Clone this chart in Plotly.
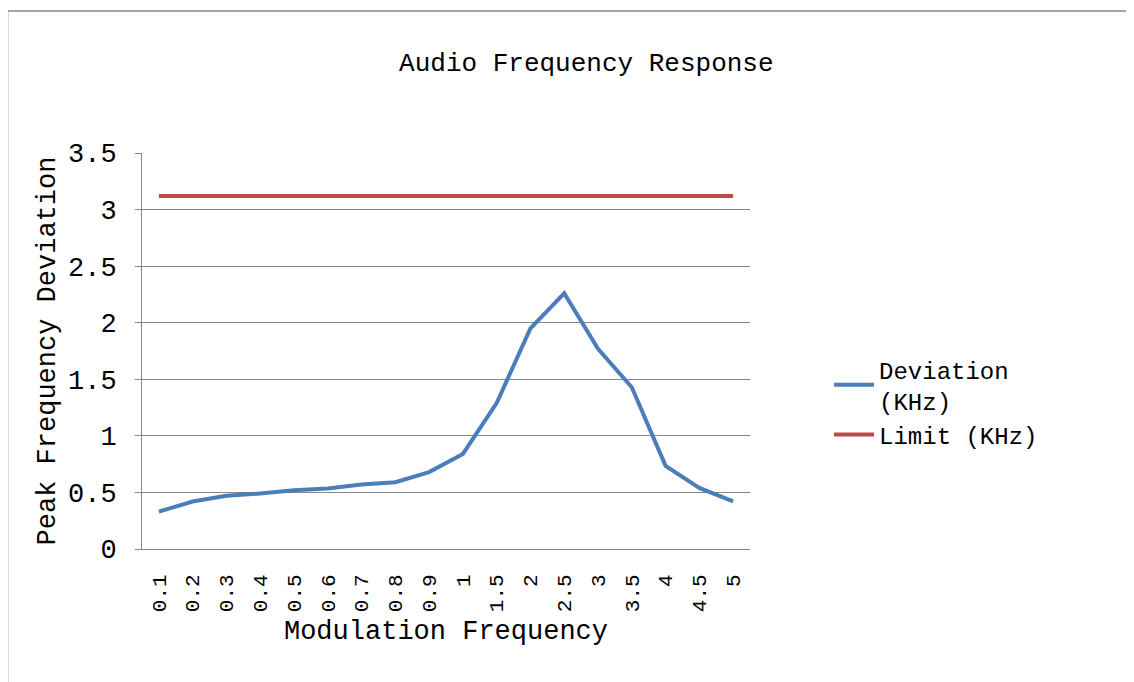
import plotly.graph_objects as go

categories = ["0.1", "0.2", "0.3", "0.4", "0.5", "0.6", "0.7", "0.8", "0.9",
              "1", "1.5", "2", "2.5", "3", "3.5", "4", "4.5", "5"]
deviation = [0.33, 0.42, 0.47, 0.49, 0.52, 0.535, 0.57, 0.59, 0.68,
             0.84, 1.29, 1.95, 2.26, 1.77, 1.43, 0.735, 0.54, 0.42]
limit = [3.12] * len(categories)
y_tickvals = [0, 0.5, 1, 1.5, 2, 2.5, 3, 3.5]
y_ticktext = ["0", "0.5", "1", "1.5", "2", "2.5", "3", "3.5"]

MONO = "Liberation Mono, DejaVu Sans Mono, monospace"

fig = go.Figure()
fig.add_trace(go.Scatter(x=categories, y=deviation, mode="lines",
                         name="Deviation<br>(KHz)",
                         line=dict(color="#4a7ebb", width=4)))
fig.add_trace(go.Scatter(x=categories, y=limit, mode="lines",
                         name="Limit (KHz)",
                         line=dict(color="#be4b48", width=4)))

fig.update_layout(
    width=1134, height=682,
    margin=dict(l=134, r=392, t=145, b=141),
    paper_bgcolor="white", plot_bgcolor="white",
    title=dict(text="Audio Frequency Response", x=0.51, xanchor="center",
               y=1 - 54 / 682, yanchor="middle",
               font=dict(family=MONO, size=26, color="black")),
    legend=dict(x=1.13, xanchor="left", y=0.51, yanchor="top",
                font=dict(family=MONO, size=24, color="black"),
                tracegroupgap=0, itemwidth=40,
                bgcolor="rgba(0,0,0,0)"),
    showlegend=True,
)
fig.update_xaxes(type="category", range=[-0.5, 17.5],
                 tickangle=-90, showgrid=False,
                 showline=True, linecolor="#878787", linewidth=1,
                 ticks="outside", ticklen=16, tickcolor="rgba(0,0,0,0)",
                 tickfont=dict(family=MONO, size=21, color="black"),
                 title=dict(text="Modulation Frequency", standoff=8,
                            font=dict(family=MONO, size=27, color="black")))
fig.update_yaxes(range=[0, 3.5], tickvals=y_tickvals, ticktext=y_ticktext,
                 showgrid=True, gridcolor="#878787", gridwidth=1,
                 showline=True, linecolor="#878787", linewidth=1,
                 ticks="outside", ticklen=6, tickcolor="#878787",
                 ticklabelstandoff=13,
                 zeroline=False,
                 tickfont=dict(family=MONO, size=27, color="black"),
                 title=dict(text="Peak Frequency Deviation", standoff=4,
                            font=dict(family=MONO, size=27, color="black")))

# outer chart border
fig.add_shape(type="rect", xref="paper", yref="paper",
              x0=(8 - 142) / 606, x1=1.8, y0=-0.6, y1=(549 - 11) / 396,
              line=dict(color="#888888", width=1.5), layer="below")

fig.write_html("out.html")
